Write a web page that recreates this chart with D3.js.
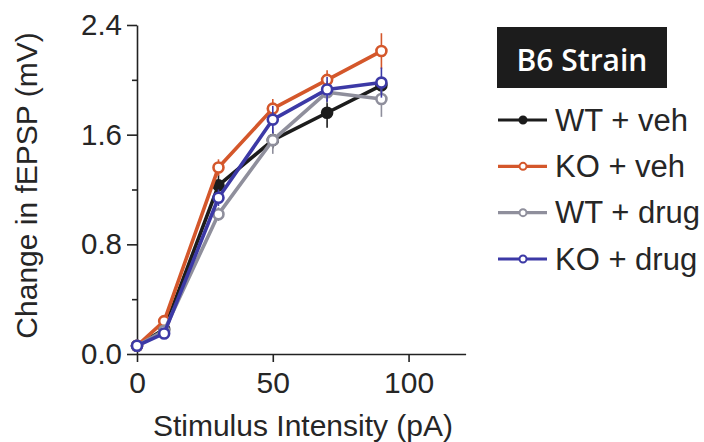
<!DOCTYPE html>
<html>
<head>
<meta charset="utf-8">
<script src="https://cdn.jsdelivr.net/npm/d3@7"></script>
<style>
  html, body { margin: 0; padding: 0; background: #fff; }
  svg { display: block; }
  text { font-family: "Liberation Sans", Arial, Helvetica, sans-serif; fill: #262626; }
</style>
</head>
<body>
<svg id="chart" width="704" height="442"></svg>
<script>
// Stimulus intensities (pA)
const intensities = [0, 10, 30, 50, 70, 90];

// Series names, in legend order
const seriesNames = ["WT + veh", "KO + veh", "WT + drug", "KO + drug"];
const seriesColors = ["#1c1c1c", "#d4572b", "#8f8f9c", "#3c39a6"];

// Mean change in fEPSP (mV) per intensity
const wtVeh   = [0.06, 0.18, 1.23, 1.56, 1.76, 1.96];
const koVeh   = [0.06, 0.24, 1.36, 1.79, 2.00, 2.21];
const wtDrug  = [0.06, 0.17, 1.02, 1.56, 1.91, 1.86];
const koDrug  = [0.06, 0.15, 1.14, 1.71, 1.93, 1.98];

// Error (SEM) per intensity
const wtVehErr  = [0.02, 0.03, 0.08, 0.06, 0.11, 0.06];
const koVehErr  = [0.02, 0.03, 0.06, 0.07, 0.07, 0.13];
const wtDrugErr = [0.02, 0.03, 0.05, 0.10, 0.08, 0.13];
const koDrugErr = [0.02, 0.03, 0.06, 0.10, 0.09, 0.11];

// Axis ticks
const yMajorTicks = [0, 0.8, 1.6, 2.4];
const yMinorTicks = [0.4, 1.2, 2.0];
const xTicks = [0, 50, 100];

const legendTitle = "B6 Strain";
const xTitle = "Stimulus Intensity (pA)";
const yTitle = "Change in fEPSP (mV)";

const seriesValues = [wtVeh, koVeh, wtDrug, koDrug];
const seriesErrors = [wtVehErr, koVehErr, wtDrugErr, koDrugErr];

const svg = d3.select("#chart");

const x = d3.scaleLinear().domain([0, 121]).range([137, 465.6]);
const y = d3.scaleLinear().domain([0, 2.4]).range([354, 25]);

// Y axis: labelled major ticks plus short minor ticks
const yAxis = svg.append("g").attr("transform", `translate(${x(0)},0)`)
  .call(d3.axisLeft(y).tickValues(yMajorTicks).tickFormat(d3.format(".1f"))
    .tickSize(10).tickPadding(5).tickSizeOuter(0));
yAxis.select(".domain").attr("stroke", "#222").attr("stroke-width", 1.6);
yAxis.selectAll(".tick line").attr("stroke", "#222").attr("stroke-width", 1.6);
yAxis.selectAll(".tick text").style("font-size", "29.5px").attr("fill", "#262626");

const yMinor = svg.append("g").attr("transform", `translate(${x(0)},0)`)
  .call(d3.axisLeft(y).tickValues(yMinorTicks).tickFormat("").tickSize(5).tickSizeOuter(0));
yMinor.select(".domain").remove();
yMinor.selectAll(".tick line").attr("stroke", "#222").attr("stroke-width", 1.6);

// X axis
const xAxis = svg.append("g").attr("transform", `translate(0,${y(0)})`)
  .call(d3.axisBottom(x).tickValues(xTicks).tickFormat(d3.format("d"))
    .tickSize(8).tickPadding(10).tickSizeOuter(0));
xAxis.select(".domain").attr("stroke", "#222").attr("stroke-width", 1.6);
xAxis.selectAll(".tick line").attr("stroke", "#222").attr("stroke-width", 1.6);
xAxis.selectAll(".tick text").style("font-size", "30px").attr("fill", "#262626");

// Axis titles
svg.append("text")
  .attr("x", 303).attr("y", 436)
  .attr("text-anchor", "middle")
  .style("font-size", "30px")
  .text(xTitle);

svg.append("text")
  .attr("transform", "translate(37,185.5) rotate(-90)")
  .attr("text-anchor", "middle")
  .style("font-size", "30px")
  .text(yTitle);

// Series: error bars, connecting lines and open markers
const line = d3.line().x(d => x(d[0])).y(d => y(d[1]));

seriesValues.forEach((vals, i) => {
  const color = seriesColors[i];
  const errs = seriesErrors[i];
  const pts = intensities.map((t, j) => [t, vals[j], errs[j]]);
  const g = svg.append("g");

  g.selectAll("line.err").data(pts).join("line")
    .attr("class", "err")
    .attr("x1", d => x(d[0])).attr("x2", d => x(d[0]))
    .attr("y1", d => y(d[1] + d[2])).attr("y2", d => y(d[1] - d[2]))
    .attr("stroke", color).attr("stroke-width", 1.6);

  g.append("path").datum(pts)
    .attr("d", line)
    .attr("fill", "none")
    .attr("stroke", color)
    .attr("stroke-width", 3.6)
    .attr("stroke-linejoin", "round");

  g.selectAll("circle").data(pts).join("circle")
    .attr("cx", d => x(d[0])).attr("cy", d => y(d[1]))
    .attr("r", 5)
    .attr("fill", i === 0 ? "#1c1c1c" : "#fff")
    .attr("stroke", color).attr("stroke-width", 2.6);
});

// Legend
const legend = svg.append("g");
legend.append("rect")
  .attr("x", 497).attr("y", 27).attr("width", 170).attr("height", 61)
  .attr("fill", "#1c1c1c");
legend.append("text")
  .attr("x", 582).attr("y", 71)
  .attr("text-anchor", "middle")
  .style("font-family", "'Open Sans', sans-serif")
  .style("font-weight", 600)
  .style("font-size", "30px")
  .style("fill", "#fff")
  .text(legendTitle);

const rowY = d3.scalePoint().domain(seriesNames).range([120, 259]);
seriesNames.forEach((name, i) => {
  const cy = rowY(name);
  legend.append("line")
    .attr("x1", 498).attr("x2", 547).attr("y1", cy).attr("y2", cy)
    .attr("stroke", seriesColors[i]).attr("stroke-width", 3.2);
  legend.append("circle")
    .attr("cx", 523).attr("cy", cy).attr("r", 3.5)
    .attr("fill", i === 0 ? "#1c1c1c" : "#fff")
    .attr("stroke", seriesColors[i]).attr("stroke-width", 2);
  legend.append("text")
    .attr("x", 555).attr("y", cy + 10.5)
    .style("font-size", "31px")
    .text(name);
});
</script>
</body>
</html>
